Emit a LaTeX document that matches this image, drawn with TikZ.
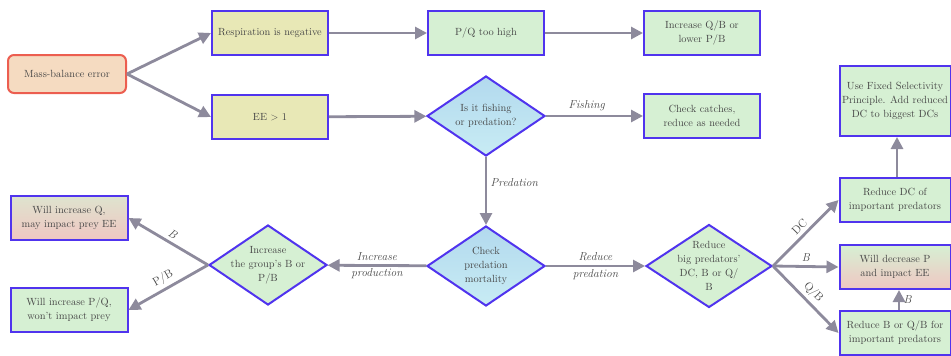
\documentclass[tikz,border=0pt]{standalone}
\usepackage{tikz}
\usetikzlibrary{shapes.geometric,arrows.meta}

\definecolor{edgeblue}{HTML}{5034EE}
\definecolor{edgered}{HTML}{EC5E50}
\definecolor{arrowgray}{HTML}{8D8A9C}
\definecolor{textgray}{HTML}{474747}
\definecolor{boxgreen}{HTML}{D6F0D3}
\definecolor{boxyellow}{HTML}{E8E8B6}
\definecolor{boxpeach}{HTML}{F5DBC1}
\definecolor{boxpink}{HTML}{F0C6C2}
\definecolor{diablue}{HTML}{B2D9EE}
\definecolor{diacyan}{HTML}{C8ECF4}

\begin{document}
\begin{tikzpicture}[x=1pt,y=-1pt,
    font=\fontsize{10.4}{14}\selectfont, text=textgray,
    box/.style={draw=edgeblue, line width=2pt, fill=boxgreen, minimum width=116pt,
      minimum height=44pt, align=center, inner sep=2pt},
    decide/.style={diamond, draw=edgeblue, line width=2pt, minimum width=118pt,
      minimum height=80pt, inner sep=0pt},
    arr/.style={draw=arrowgray, line width=2.8pt, -{Triangle[length=12pt,width=12pt]}},
    lab/.style={font=\fontsize{11.5}{16.5}\selectfont\itshape, text=textgray},
    labup/.style={font=\fontsize{11.5}{16.5}\selectfont, text=textgray}]

    \useasboundingbox (0,0) rectangle (951,356);

    % draw start
    \node[draw=edgered, fill=boxpeach, rounded corners=6pt, line width=2pt,
      minimum width=118pt, minimum height=38pt] (mass) at (67,74) {Mass-balance error};

    % draw top rows
    \node[box, fill=boxyellow] (resp) at (270,33) {Respiration is negative};
    \node[box, fill=boxyellow] (ee) at (270,117) {EE $>$ 1};
    \node[box] (pq) at (486,33) {P/Q too high};
    \node[box] (incqb) at (702,33) {Increase Q/B or\\lower P/B};
    \node[decide, top color=diablue, bottom color=diacyan,
      label={[align=center]center:{Is it fishing\\or predation?}}] (fish) at (486,116) {};
    \node[box] (catch) at (702,116) {Check catches,\\reduce as needed};

    % draw right column
    \node[box, minimum width=111pt, minimum height=70pt] (fixed) at (895,101)
      {Use Fixed Selectivity\\Principle. Add reduced\\DC to biggest DCs};
    \node[box, minimum width=111pt] (reddc) at (895,200) {Reduce DC of\\important predators};
    \node[box, minimum width=111pt, top color=boxgreen, bottom color=boxpink] (decp) at (895,267)
      {Will decrease P\\and impact EE};
    \node[box, minimum width=111pt] (redb) at (895,333) {Reduce B or Q/B for\\important predators};

    % draw bottom row
    \node[decide, top color=diablue, bottom color=diacyan,
      label={[align=center]center:{Check\\predation\\mortality}}] (check) at (486,266) {};
    \node[decide, fill=boxgreen, minimum width=126pt, minimum height=83pt,
      label={[align=center]center:{Reduce\\big predators'\\DC, B or Q/\\B}}] (big) at (709,266) {};
    \node[decide, fill=boxgreen,
      label={[align=center]center:{Increase\\the group's B or\\P/B}}] (incr) at (268,265) {};
    \node[box, minimum width=117pt, top color=boxgreen!70!boxpink, bottom color=boxpink] (willq) at (69,218)
      {Will increase Q,\\may impact prey EE};
    \node[box, minimum width=117pt] (willpq) at (69,310) {Will increase P/Q,\\won't impact prey};

    % draw arrows
    \draw[arr] (mass.east) -- (resp.west);
    \draw[arr] (mass.east) -- (ee.west);
    \draw[arr] (resp) -- (pq);
    \draw[arr] (pq) -- (incqb);
    \draw[arr] (ee) -- (fish);
    \draw[arr] (fish) -- node[lab, above, pos=0.42] {Fishing} (catch);
    \draw[arr] (fish) -- node[lab, right, pos=0.37] {Predation} (check);
    \draw[arr] (check) -- node[lab, align=center] {Increase\\production} (incr);
    \draw[arr] (check) -- node[lab, align=center] {Reduce\\predation} (big);
    \draw[arr] (incr.west) -- node[lab, above, sloped] {B} (willq.east);
    \draw[arr] (incr.west) -- node[labup, above, sloped] {P/B} (willpq.east);
    \draw[arr] (big.east) -- node[labup, above, sloped] {DC} (reddc.west);
    \draw[arr] (big.east) -- node[lab, above] {B} (decp.west);
    \draw[arr] (big.east) -- node[labup, above, sloped] {Q/B} (redb.west);
    \draw[arr] ([xshift=4pt]redb.north) -- node[lab, right] {B} ([xshift=4pt]decp.south);
    \draw[arr] ([xshift=2pt]reddc.north) -- ([xshift=2pt]fixed.south);

\end{tikzpicture}
\end{document}
